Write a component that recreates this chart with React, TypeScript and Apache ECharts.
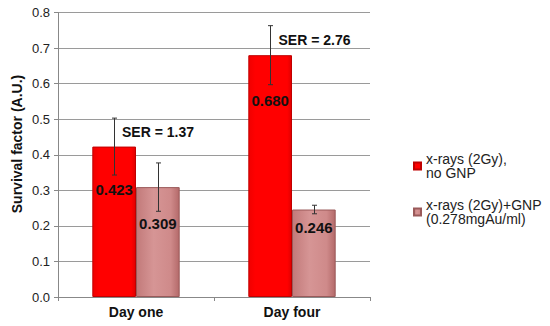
import React, { useEffect, useRef } from "react";
import * as echarts from "echarts";

const categories = ["Day one", "Day four"];
const noGnpValues = [0.423, 0.68];
const noGnpErrors = [0.08, 0.083];
const gnpValues = [0.309, 0.246];
const gnpErrors = [0.068, 0.012];
const seriesNames = ["x-rays (2Gy),\nno GNP", "x-rays (2Gy)+GNP\n(0.278mgAu/ml)"];
const yTicks = [0, 0.1, 0.2, 0.3, 0.4, 0.5, 0.6, 0.7, 0.8];
const serLabels = ["SER = 1.37", "SER = 2.76"];

// label placement (pixels below bar top) — layout, not data
const noGnpLabelDy = [43, 45];
const gnpLabelDy = [36, 18];

const FONT = "Liberation Sans, Arial, sans-serif";

export default function App() {
  const ref = useRef<HTMLDivElement>(null);
  useEffect(() => {
    const chart = echarts.init(ref.current!, undefined, { renderer: "svg" });
    const offsets = [-0.14, 0.14];
    const errData = [
      ...noGnpValues.map((v, i) => [i, v, noGnpErrors[i], 0]),
      ...gnpValues.map((v, i) => [i, v, gnpErrors[i], 1]),
    ];
    const mkLabel = (dy: number) => ({
      show: true,
      position: ["50%", dy],
      align: "center",
      verticalAlign: "middle",
      fontFamily: FONT,
      fontWeight: "bold",
      fontSize: 15,
      color: "#111",
      formatter: (p: any) => Number(p.value).toFixed(3),
    });
    chart.setOption({
      animation: false,
      grid: { left: 58, right: 180, top: 12.5, bottom: 29 },
      xAxis: {
        type: "category",
        data: categories,
        axisLine: { show: true, lineStyle: { color: "#888", width: 1 } },
        axisTick: { show: true, length: 4, lineStyle: { color: "#888" } },
        axisLabel: {
          fontFamily: FONT,
          fontWeight: "bold",
          fontSize: 14,
          color: "#111",
          margin: 8,
        },
      },
      yAxis: {
        type: "value",
        min: yTicks[0],
        max: yTicks[yTicks.length - 1],
        interval: 0.1,
        axisLine: { show: true, lineStyle: { color: "#888", width: 1 } },
        axisTick: { show: true, length: 4, lineStyle: { color: "#888" } },
        axisLabel: {
          fontFamily: FONT,
          fontSize: 13,
          color: "#222",
          margin: 8,
          formatter: (v: number) => v.toFixed(1),
        },
        splitLine: { lineStyle: { color: "#9a9a9a", width: 1 } },
      },
      legend: {
        orient: "vertical",
        left: 408,
        top: 146.5,
        itemWidth: 7,
        itemHeight: 7,
        itemGap: 17,
        icon: "rect",
        data: seriesNames,
        textStyle: { fontFamily: FONT, fontSize: 14, lineHeight: 14.5, color: "#222" },
      },
      series: [
        {
          name: seriesNames[0],
          type: "bar",
          barWidth: "28%",
          barGap: "0%",
          itemStyle: {
            color: {
              type: "linear", x: 0, y: 0, x2: 1, y2: 0,
              colorStops: [
                { offset: 0, color: "#f00000" },
                { offset: 0.15, color: "#ff0000" },
                { offset: 0.9, color: "#ff0000" },
                { offset: 1, color: "#e00000" },
              ],
            },
            borderColor: "#c00000",
            borderWidth: 1,
          },
          data: noGnpValues.map((v, i) => ({ value: v, label: mkLabel(noGnpLabelDy[i]) })),
        },
        {
          name: seriesNames[1],
          type: "bar",
          barWidth: "28%",
          barGap: "0%",
          itemStyle: {
            color: {
              type: "linear", x: 0, y: 0, x2: 1, y2: 0,
              colorStops: [
                { offset: 0, color: "#c27a7a" },
                { offset: 0.4, color: "#d69595" },
                { offset: 0.8, color: "#cf8a8a" },
                { offset: 1, color: "#b46a6a" },
              ],
            },
            borderColor: "#9a5a5a",
            borderWidth: 1,
          },
          data: gnpValues.map((v, i) => ({ value: v, label: mkLabel(gnpLabelDy[i]) })),
        },
        {
          type: "custom",
          silent: true,
          z: 10,
          data: errData,
          encode: { x: 0, y: 1 },
          renderItem: (params: any, api: any) => {
            const idx = api.value(0);
            const v = api.value(1);
            const e = api.value(2);
            const s = api.value(3);
            const center = api.coord([idx, 0])[0];
            const bw = api.size([1, 0])[0];
            const cx = Math.round(center + offsets[s] * bw) + 0.5;
            const yt = api.coord([idx, v + e])[1];
            const yb = api.coord([idx, v - e])[1];
            const st = { stroke: "#333", lineWidth: 1 };
            return {
              type: "group",
              children: [
                { type: "line", shape: { x1: cx, y1: yt, x2: cx, y2: yb }, style: st },
                { type: "line", shape: { x1: cx - 2.5, y1: yt, x2: cx + 2.5, y2: yt }, style: st },
                { type: "line", shape: { x1: cx - 2.5, y1: yb, x2: cx + 2.5, y2: yb }, style: st },
              ],
            };
          },
        },
      ],
      graphic: [
        {
          type: "text",
          x: 16.5,
          y: 144,
          rotation: Math.PI / 2,
          style: {
            text: "Survival factor (A.U.)",
            fontFamily: FONT,
            fontWeight: "bold",
            fontSize: 14,
            fill: "#111",
            align: "center",
            verticalAlign: "middle",
          },
        },
        {
          type: "text",
          x: 122,
          y: 131.5,
          style: {
            text: serLabels[0],
            fontFamily: FONT,
            fontWeight: "bold",
            fontSize: 14,
            fill: "#111",
            align: "left",
            verticalAlign: "middle",
          },
        },
        {
          type: "text",
          x: 278.5,
          y: 39.5,
          style: {
            text: serLabels[1],
            fontFamily: FONT,
            fontWeight: "bold",
            fontSize: 14,
            fill: "#111",
            align: "left",
            verticalAlign: "middle",
          },
        },
      ],
    });
    return () => chart.dispose();
  }, []);
  return <div ref={ref} style={{ width: 550, height: 326, position: "absolute", left: 0, top: 0 }} />;
}
